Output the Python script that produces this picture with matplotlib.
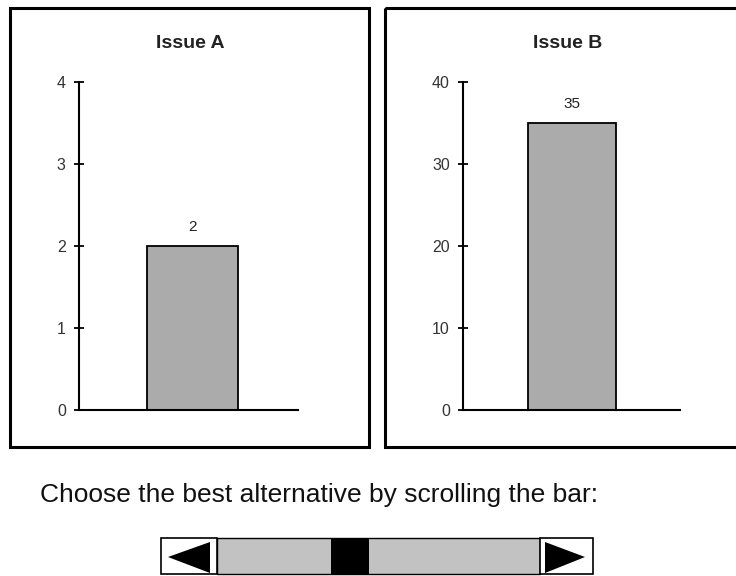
import matplotlib.pyplot as plt
from matplotlib.patches import Rectangle, Polygon

plt.rcParams['font.family'] = ['Liberation Sans', 'DejaVu Sans']

issues = ['Issue A', 'Issue B']
values = [2, 35]
ymax = [4, 40]
yticks = [[0, 1, 2, 3, 4], [0, 10, 20, 30, 40]]
prompt = 'Choose the best alternative by scrolling the bar:'

W, H = 736, 576
fig = plt.figure(figsize=(W / 100, H / 100), dpi=100)

# background layer in pixel units for panel boxes and the scroll bar
bg = fig.add_axes([0, 0, 1, 1], zorder=0)
bg.set_xlim(0, W)
bg.set_ylim(H, 0)
bg.axis('off')
for x0, x1 in [(10, 369), (385, 760)]:
    bg.add_patch(Rectangle((x0, 8), x1 - x0, 439, fill=False, ec='black', lw=2.2))

# scroll bar widget
bg.add_patch(Rectangle((217, 538), 323, 36, fc='#c2c2c2', ec='black', lw=1.0))
bg.add_patch(Rectangle((331, 538), 38, 36, fc='black', ec='black', lw=0))
bg.add_patch(Rectangle((161, 538), 56, 36, fc='white', ec='black', lw=1.2))
bg.add_patch(Rectangle((540, 538), 53, 36, fc='white', ec='black', lw=1.2))
bg.add_patch(Polygon([(168, 557), (210, 542), (210, 573)], fc='black', ec='none'))
bg.add_patch(Polygon([(585, 557), (545, 542), (545, 573)], fc='black', ec='none'))

fig.text(40 / W, 1 - 502 / H, prompt, fontsize=19, ha='left', va='baseline', color='#111111')

# axes positions in pixels: left, right, and x-limits around the bar
boxes = [(79, 298, (-1.247, 1.159), 0.51), (463, 680, (-1.24, 1.227), 0.48)]
for i, (l, r, xl, tx) in enumerate(boxes):
    ax = fig.add_axes([l / W, 1 - 410 / H, (r - l) / W, 328 / H], zorder=1)
    ax.patch.set_alpha(0)
    ax.bar([0], [values[i]], width=1.0, color='#ababab', edgecolor='black', linewidth=1.3)
    ax.set_xlim(*xl)
    ax.set_ylim(0, ymax[i])
    ax.set_yticks(yticks[i])
    ax.set_xticks([])
    for s in ['top', 'right']:
        ax.spines[s].set_visible(False)
    for s in ['left', 'bottom']:
        ax.spines[s].set_linewidth(1.5)
    ax.tick_params(axis='y', direction='inout', length=7, width=1.3,
                   labelsize=11.5, labelcolor='#333333', pad=6)
    ax.annotate(str(values[i]), (0, values[i]), xytext=(0, 14), textcoords='offset points',
                ha='center', va='center', fontsize=11, color='#222222')
    ax.text(tx, 1 + 39 / 328, issues[i], transform=ax.transAxes, ha='center', va='center',
            fontsize=14, fontweight='bold', color='#222222')

fig.savefig('out.png', dpi=100)
